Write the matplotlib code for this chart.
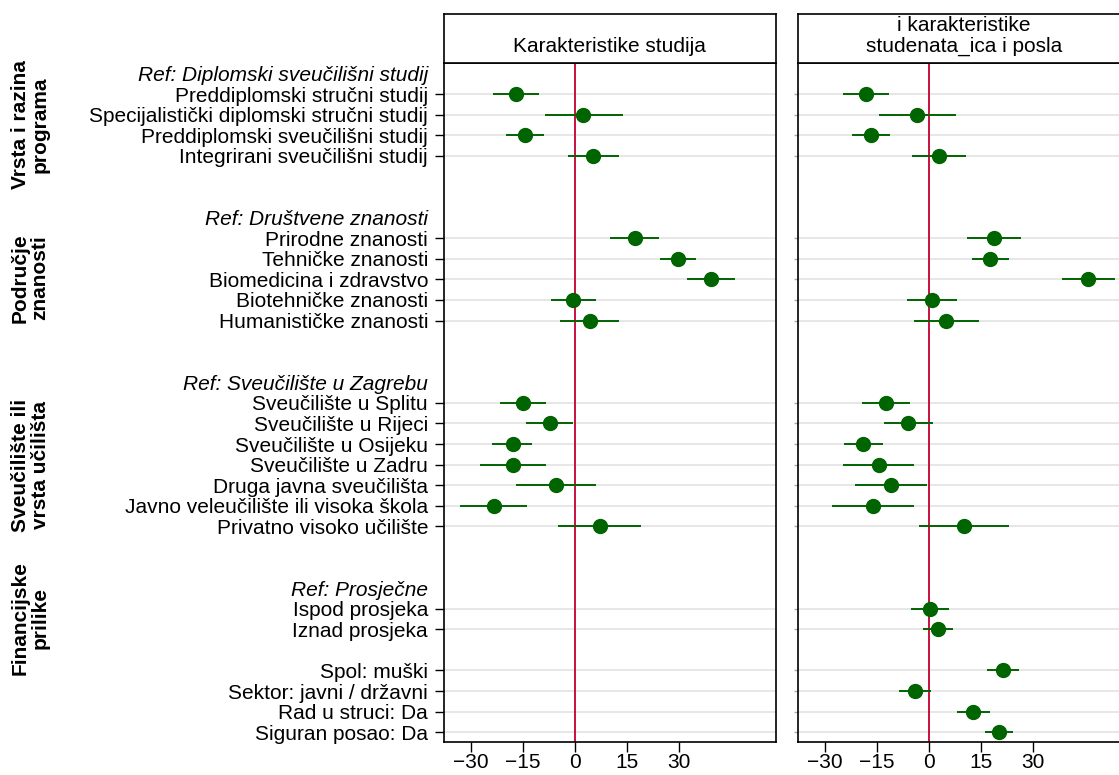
import numpy as np
import matplotlib.pyplot as plt

plt.rcParams['font.family'] = ['Liberation Sans', 'DejaVu Sans']

# row labels, top to bottom ('' = spacer row, 'Ref:' rows are reference categories)
row_labels = [
    'Ref: Diplomski sveučilišni studij', 'Preddiplomski stručni studij',
    'Specijalistički diplomski stručni studij', 'Preddiplomski sveučilišni studij',
    'Integrirani sveučilišni studij', '', '',
    'Ref: Društvene znanosti', 'Prirodne znanosti', 'Tehničke znanosti',
    'Biomedicina i zdravstvo', 'Biotehničke znanosti', 'Humanističke znanosti', '', '',
    'Ref: Sveučilište u Zagrebu', 'Sveučilište u Splitu', 'Sveučilište u Rijeci',
    'Sveučilište u Osijeku', 'Sveučilište u Zadru', 'Druga javna sveučilišta',
    'Javno veleučilište ili visoka škola', 'Privatno visoko učilište', '', '',
    'Ref: Prosječne', 'Ispod prosjeka', 'Iznad prosjeka', '',
    'Spol: muški', 'Sektor: javni / državni', 'Rad u struci: Da', 'Siguran posao: Da',
]

group_labels = ['Vrsta i razina\nprograma', 'Područje\nznanosti',
                'Sveučilište ili\nvrsta učilišta', 'Financijske\nprilike']

panel_titles = ['\nKarakteristike studija', 'i karakteristike\nstudenata_ica i posla']

# coefficients for the non-reference rows (NaN = not in that model)
left_coef = [-16.9, 2.5, -14.3, 5.4, 17.3, 29.7, 39.2, -0.4, 4.3,
             -14.9, -7.2, -17.9, -17.9, -5.5, -23.4, 7.2] + [np.nan] * 6
left_lo = [-23.5, -8.6, -19.9, -1.8, 10.3, 24.6, 32.3, -6.9, -4.2,
           -21.5, -14.0, -23.8, -27.2, -16.8, -33.0, -4.7] + [np.nan] * 6
left_hi = [-10.3, 13.8, -8.9, 12.8, 24.3, 35.0, 46.2, 6.2, 12.7,
           -8.4, -0.4, -12.2, -8.4, 6.1, -13.7, 19.1] + [np.nan] * 6

right_coef = [-18.3, -3.4, -16.8, 2.8, 18.7, 17.7, 45.9, 0.9, 5.0,
              -12.4, -6.1, -18.9, -14.5, -11.0, -16.2, 10.0,
              0.4, 2.7, 21.3, -3.9, 12.8, 20.2]
right_lo = [-24.8, -14.5, -22.2, -4.9, 10.9, 12.3, 38.3, -6.4, -4.4,
            -19.2, -13.1, -24.5, -24.8, -21.3, -28.1, -2.9,
            -5.2, -1.6, 16.7, -8.5, 8.2, 16.3]
right_hi = [-11.4, 7.9, -11.3, 10.6, 26.5, 23.2, 53.6, 8.1, 14.5,
            -5.5, 1.3, -13.3, -4.2, -0.7, -4.3, 23.1,
            5.9, 7.0, 26.1, 0.7, 17.5, 24.2]

xticks = [-30, -15, 0, 15, 30]

green = '#006400'
red = '#C8103E'
fs = 15

rows = np.arange(len(row_labels))
label_rows = [i for i, l in enumerate(row_labels) if l]
ref_rows = [i for i, l in enumerate(row_labels) if l.startswith('Ref:')]
data_rows = [i for i in label_rows if i not in ref_rows]

fig = plt.figure(figsize=(11.19, 7.75), dpi=100)

panel_left = [0.3968, 0.7134]
width = 0.2964
bottom, height = 0.043, 0.876
head_h = 0.063

panels = [(left_coef, left_lo, left_hi), (right_coef, right_lo, right_hi)]

for k, (coef, lo, hi) in enumerate(panels):
    ax = fig.add_axes([panel_left[k], bottom, width, height])
    coef = np.array(coef, dtype=float)
    lo = np.array(lo, dtype=float)
    hi = np.array(hi, dtype=float)
    y = np.array(data_rows)

    for r in data_rows:
        ax.axhline(r, color='#e0e0e0', lw=1.1, zorder=0)
    ax.axvline(0, color=red, lw=1.4, zorder=1)
    ok = ~np.isnan(coef)
    ax.hlines(y[ok], lo[ok], hi[ok], color=green, lw=1.4, zorder=2)
    ax.plot(coef[ok], y[ok], 'o', color=green, ms=10, zorder=3)

    ax.set_xlim(-37.7, 58)
    ax.set_ylim(32.46, -0.52)
    ax.set_xticks(xticks)
    ax.set_xticklabels([f'{t}'.replace('-', '\u2212') for t in xticks], fontsize=fs)
    ax.tick_params(axis='x', length=7.5, width=1, pad=1)
    for s in ax.spines.values():
        s.set_linewidth(1.2)

    ax.set_yticks(label_rows)
    if k == 0:
        ax.set_yticklabels([row_labels[i] for i in label_rows], fontsize=fs)
        ax.tick_params(axis='y', length=6.5, width=1, pad=5)
        for t, r in zip(ax.yaxis.get_major_ticks(), label_rows):
            if r in ref_rows:
                t.tick1line.set_visible(False)
                t.label1.set_fontstyle('italic')
    else:
        ax.set_yticklabels([])
        ax.tick_params(axis='y', length=3, width=1, color='#aaaaaa')
        for t, r in zip(ax.yaxis.get_major_ticks(), label_rows):
            if r in ref_rows:
                t.tick1line.set_visible(False)
        ax.spines['right'].set_visible(False)

    # header box
    hx = fig.add_axes([panel_left[k], bottom + height, width, head_h])
    hx.set_xticks([])
    hx.set_yticks([])
    for s in hx.spines.values():
        s.set_linewidth(1.2)
    hx.text(0.5, 0.55, panel_titles[k], ha='center', va='center',
            fontsize=fs, linespacing=1.15, transform=hx.transAxes)

group_y = [125, 278, 465, 618]
for g, py in zip(group_labels, group_y):
    fig.text(0.027, 1 - py / 775, g, rotation=90, ha='center', va='center',
             multialignment='center', fontsize=fs, fontweight='bold', linespacing=1.05)

fig.savefig('out.png', dpi=100)
